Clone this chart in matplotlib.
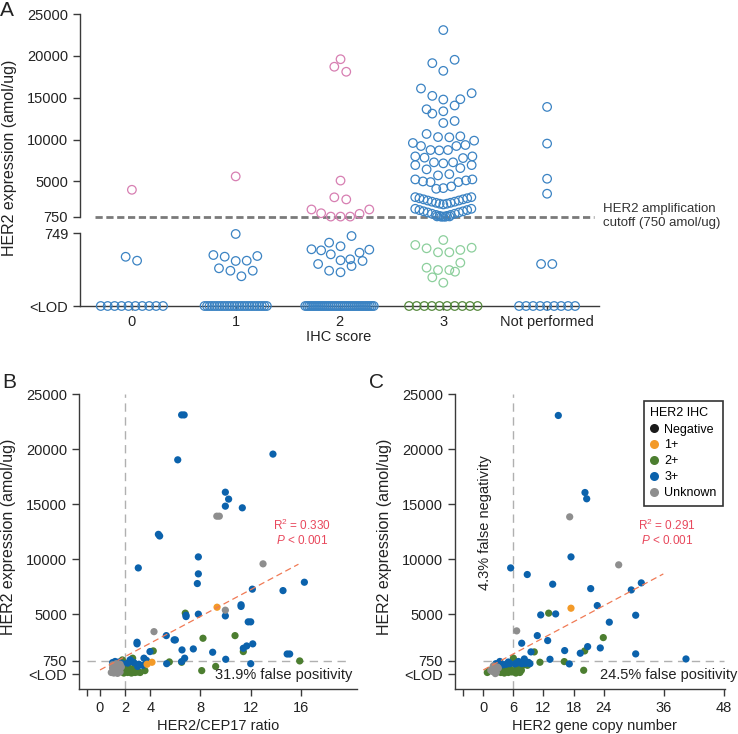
import matplotlib
matplotlib.use("Agg")
import matplotlib.pyplot as plt
from matplotlib.lines import Line2D
import numpy as np

plt.rcParams['font.family'] = ['Liberation Sans', 'DejaVu Sans']
plt.rcParams['mathtext.fontset'] = 'custom'
plt.rcParams['mathtext.rm'] = 'Liberation Sans'
plt.rcParams['mathtext.it'] = 'Liberation Sans:italic'

# ---------------- data ----------------
ihc_labels = ['0', '1', '2', '3', 'Not performed']
LOD = 0          # lower panel of A: <LOD .. 749
LOD_BC = -450    # where <LOD sits on the B/C axes

# panel A, values above cutoff (amol/ug) and their swarm offsets
a0_hi = [4000]
a0_hi_dx = [0.0]
a0_lo = [505, 465]
a0_lo_dx = [-0.06, 0.05]
a0_lod = 10

a1_hi = [5600]
a1_hi_dx = [0.0]
a1_lo = [739, 523, 506, 462, 465, 513, 387, 362, 362, 305]
a1_lo_dx = [0.0, -0.215, -0.106, 0.0, 0.106, 0.208, -0.161, -0.051, 0.164, 0.055]
a1_lod = 26

a2_hi = [19600, 18700, 18100, 5100, 3100, 2850, 1650, 1200, 800, 800, 800, 1130, 1650]
a2_hi_dx = [0.01, -0.05, 0.065, 0.01, -0.05, 0.065, -0.27, -0.177, -0.084, 0.01, 0.103, 0.193, 0.287]
a2_lo = [718, 650, 613, 582, 571, 578, 530, 547, 469, 479, 462, 431, 410, 362, 346]
a2_lo_dx = [0.116, -0.1, 0.01, -0.27, -0.177, 0.287, -0.084, 0.193, 0.01, 0.103, 0.222, -0.206, 0.116, -0.1, 0.01]
a2_lod = 36

a3_hi = [23080, 19130, 19530, 18210, 16100, 15220, 14780, 14820, 15540, 14070,
         13620, 13100, 13380, 11980, 12220, 10670, 10300, 10270, 10390, 9590,
         9230, 8750, 8710, 8750, 9230, 9350, 9870, 7990, 7840, 7280,
         7160, 7280, 7790, 7990, 6950, 6440, 6590, 6950, 5720, 5870,
         5240, 5000, 4920, 4120, 4200, 4400, 4920, 5120, 5240,
         3120, 2990, 2860, 2720, 2580, 2450, 2340, 2250, 2340, 2450, 2580, 2720, 2860, 2990, 3120,
         1730, 1580, 1430, 1290, 1140, 1000, 880, 800, 880, 1000, 1140, 1290, 1430, 1580, 1730,
         820, 780, 780, 820]
a3_hi_dx = [0.0, -0.106, 0.109, 0.0, -0.215, -0.106, 0.0, 0.164, 0.273, 0.109,
            -0.161, -0.106, 0.0, 0.0, 0.109, -0.161, -0.051, 0.058, 0.164, -0.293,
            -0.215, -0.123, -0.039, 0.045, 0.126, 0.213, 0.297, -0.27, -0.181, -0.09,
            0.0, 0.094, 0.19, 0.28, -0.27, -0.161, 0.164, 0.273, -0.051, 0.058,
            -0.27, -0.196, -0.123, -0.068, 0.0, 0.077, 0.145, 0.219, 0.28,
            -0.27, -0.23, -0.19, -0.15, -0.11, -0.07, -0.035, 0.0, 0.035, 0.07, 0.11, 0.15, 0.19, 0.23, 0.27,
            -0.27, -0.23, -0.19, -0.15, -0.11, -0.07, -0.035, 0.0, 0.035, 0.07, 0.11, 0.15, 0.19, 0.23, 0.27,
            -0.06, -0.02, 0.02, 0.06]
a3_lo = [677, 626, 592, 551, 551, 575, 598, 444, 393, 369, 369, 352, 294, 239]
a3_lo_dx = [0.0, -0.27, -0.161, -0.051, 0.058, 0.164, 0.273, 0.164, -0.161, -0.051, 0.058, 0.113, -0.106, 0.0]
a3_lod = 10

anp_hi = [13900, 9520, 5320, 3530]
anp_hi_dx = [0.0, 0.0, 0.0, 0.0]
anp_lo = [431, 431]
anp_lo_dx = [-0.058, 0.05]
anp_lod = 9

# half-widths of the <LOD rows
lod_halfwidth = [0.30, 0.30, 0.33, 0.33, 0.27]

# panel B: HER2/CEP17 ratio vs expression
b_blue_x = [6.5, 6.7, 6.19, 13.77, 9.98, 10.24, 9.98, 11.33, 4.65, 4.75, 7.83, 3.05, 7.83, 7.75,
            16.27, 12.13, 14.57, 11.23, 11.23, 6.85, 6.85, 7.83, 9.98, 11.8, 12.0, 5.28, 5.9, 6.0,
            2.95, 2.95, 3.98, 6.53, 7.43, 8.97, 11.41, 11.68, 12.16, 14.9, 15.1, 3.5, 10.01, 3.74,
            5.31, 6.5, 6.74, 12.0,
            1.0, 1.2, 1.5, 1.8, 2.2, 2.5, 2.7, 3.1, 3.4, 3.0, 3.7, 2.4]
b_blue_y = [23100, 23100, 19020, 19540, 16080, 15450, 14810, 14660, 12250, 12100, 10200, 9200, 8660, 7780,
            7900, 7270, 7140, 5850, 5700, 4900, 4780, 5000, 4840, 4300, 4300, 3050, 2660, 2660,
            2450, 2300, 1600, 1750, 1840, 1540, 1900, 2110, 2300, 1380, 1380, 1000, 900, 600,
            500, 690, 1000, 500,
            600, 700, 650, 500, 550, 700, 600, 450, 350, 250, 800, 850]
b_green_x = [6.79, 8.20, 10.75, 4.24, 11.41, 2.60, 15.90, 5.52, 6.5, 8.10, 9.21, 3.58, 2.87, 1.78,
             2.0, 2.2, 2.4, 2.6, 2.8, 3.0, 1.9, 2.3, 2.7, 2.1, 3.2, 2.5]
b_green_y = [5090, 2810, 3050, 1660, 1600, 1000, 750, 660, 630, -130, 250, -130, -70, 840,
             0, -300, -250, -300, -300, -250, -350, 100, 100, 200, -300, -350]
b_orange_x = [9.32, 4.14, 3.75]
b_orange_y = [5630, 630, 450]
b_gray_x = [9.3, 9.5, 12.98, 9.98, 4.30,
            1.0, 1.2, 1.3, 1.5, 1.6, 1.1, 1.4, 0.9, 1.7, 1.3, 1.0, 1.6]
b_gray_y = [13900, 13900, 9570, 5360, 3410,
            100, -200, 300, 0, -250, -350, -380, -300, 200, 500, 400, 450]
b_fit = (-70, 608)        # intercept, slope
b_fit_span = (0, 15.8)

# panel C: HER2 gene copy number vs expression
c_blue_x = [14.96, 20.28, 20.62, 17.49, 5.46, 8.77, 13.84, 21.42, 29.51, 31.51, 22.73, 11.45, 14.43,
            30.39, 25.13, 10.77, 12.84, 7.66, 9.51, 16.23, 19.34, 20.81, 23.33, 30.39, 40.42, 13.3,
            17.15, 8.18, 7.66, 8.4, 9.3, 6.66, 5.3, 4.6, 4.0,
            2.5, 3.3, 3.6, 5.0, 6.3, 7.0, 9.0]
c_blue_y = [23050, 16050, 15480, 10200, 9200, 8600, 7720, 7320, 7200, 7840, 5780, 4930, 5020,
            4900, 4270, 3050, 2600, 2360, 1570, 1690, 1450, 2050, 1930, 1390, 930, 900,
            480, 930, 500, 520, 500, 540, 500, 450, 400,
            500, 700, 400, 650, 480, 700, 620]
c_green_x = [13.04, 23.93, 10.17, 20.22, 16.15, 20.02, 11.3, 6.0,
             0.8, 1.3, 3.5, 4.2, 5.0, 5.7, 6.5, 7.3, 4.5, 3.8, 5.2, 6.8, 7.7, 8.8, 5.7, 7.6]
c_green_y = [5090, 2870, 1570, 1660, 690, -100, 630, 1000,
             -300, -100, -300, -350, -300, -250, -350, -300, 0, 200, 100, 100, 300, 350, -100, -100]
c_orange_x = [17.49]
c_orange_y = [5540]
c_gray_x = [17.23, 27.0, 6.66, 1.8, 2.2, 2.6, 3.0, 2.0, 1.5, 2.4, 2.8]
c_gray_y = [13840, 9480, 3480, -200, 0, -300, 100, 300, -100, -400, 200]
c_fit = (-70, 243)
c_fit_span = (0, 35.9)

# ---------------- style ----------------
BLUE_O = '#3b83c3'
PINK_O = '#d77fb2'
LGREEN_O = '#8ccf9c'
DGREEN_O = '#55883c'
BLUE = '#0b62ac'
GREEN = '#4c7e30'
ORANGE = '#f39a28'
GRAY = '#8e8e8e'
RED = '#e8485c'
SPINE = '#3a3a3a'

W, H = 738, 734
fig = plt.figure(figsize=(W / 100, H / 100), dpi=100)


def px_axes(x0, y0, x1, y1):
    return fig.add_axes([x0 / W, 1 - y1 / H, (x1 - x0) / W, (y1 - y0) / H])


def px_text(x, y, s, **kw):
    return fig.text(x / W, 1 - y / H, s, **kw)


def style(ax):
    for side in ['top', 'right']:
        ax.spines[side].set_visible(False)
    for side in ['left', 'bottom']:
        ax.spines[side].set_color(SPINE)
        ax.spines[side].set_linewidth(1.0)
    ax.tick_params(direction='out', length=5, width=1, color=SPINE,
                   labelsize=10.5, labelcolor='#222222')


# ---------------- panel A ----------------
ax_hi = px_axes(80, 14, 599, 217)
ax_lo = px_axes(80, 233, 599, 306)
style(ax_hi)
style(ax_lo)
ax_hi.spines['bottom'].set_visible(False)
ax_hi.set_xlim(-0.5, 4.5)
ax_lo.set_xlim(-0.5, 4.5)
ax_hi.set_ylim(750, 25000)
ax_lo.set_ylim(LOD, 749)
ax_hi.set_xticks([])
ax_hi.set_yticks([750, 5000, 10000, 15000, 20000, 25000])
ax_lo.set_yticks([LOD, 749])
ax_lo.set_yticklabels(['<LOD', '749'])
ax_lo.set_xticks(range(5))
ax_lo.set_xticklabels(ihc_labels)
ax_lo.tick_params(axis='x', length=3)

hi_sets = [(a0_hi, a0_hi_dx, PINK_O), (a1_hi, a1_hi_dx, PINK_O), (a2_hi, a2_hi_dx, PINK_O),
           (a3_hi, a3_hi_dx, BLUE_O), (anp_hi, anp_hi_dx, BLUE_O)]
lo_sets = [(a0_lo, a0_lo_dx, BLUE_O), (a1_lo, a1_lo_dx, BLUE_O), (a2_lo, a2_lo_dx, BLUE_O),
           (a3_lo, a3_lo_dx, LGREEN_O), (anp_lo, anp_lo_dx, BLUE_O)]
lod_counts = [a0_lod, a1_lod, a2_lod, a3_lod, anp_lod]
lod_colors = [BLUE_O, BLUE_O, BLUE_O, DGREEN_O, BLUE_O]

circ = dict(s=38, facecolors='none', linewidths=0.9, clip_on=False, zorder=3)
for i, (vals, dx, col) in enumerate(hi_sets):
    ax_hi.scatter(i + np.array(dx), vals, edgecolors=col, **circ)
for i, (vals, dx, col) in enumerate(lo_sets):
    ax_lo.scatter(i + np.array(dx), vals, edgecolors=col, **circ)
for i, n in enumerate(lod_counts):
    xs = i + np.linspace(-lod_halfwidth[i], lod_halfwidth[i], n)
    ax_lo.scatter(xs, [LOD] * n, edgecolors=lod_colors[i], **circ)

ax_hi.hlines(750, -0.36, 4.45, colors='#7a7a7a', linestyles=(0, (2.6, 1.3)),
             linewidth=2.0, clip_on=False, zorder=2)
px_text(603, 216, 'HER2 amplification\ncutoff (750 amol/ug)', fontsize=9.5,
        va='center', ha='left', color='#333333', linespacing=1.25)
px_text(10, 158, 'HER2 expression (amol/ug)', rotation=90, fontsize=11.5,
        va='center', ha='center', color='#222222')
px_text(339, 337, 'IHC score', fontsize=10.5, va='center', ha='center', color='#222222')
px_text(0, 10, 'A', fontsize=15, va='center', ha='left', color='#222222')


# ---------------- panels B and C ----------------
def scatter_panel(ax, xlim, xticks, groups, vline, hspan, fit, fit_span, r2):
    style(ax)
    ax.set_xlim(*xlim)
    ax.set_ylim(-1800, 25000)
    ax.set_yticks([LOD_BC, 750, 5000, 10000, 15000, 20000, 25000])
    ax.set_yticklabels(['<LOD', '750', '5000', '10000', '15000', '20000', '25000'])
    ax.set_xticks(xticks)
    ax.set_xticklabels([''] + [str(t) for t in xticks[1:]])
    ax.axvline(vline, color='#b0b0b0', lw=1.0, ls=(0, (6, 4)), zorder=1)
    ax.hlines(750, hspan[0], hspan[1], colors='#b0b0b0', lw=1.0,
              linestyles=(0, (6, 4)), zorder=1)
    for xs, ys, col in groups:
        ax.scatter(xs, ys, s=27, color=col, edgecolors='none', zorder=3, clip_on=False)
    fx = np.array(fit_span)
    ax.plot(fx, fit[0] + fit[1] * fx, color='#f07a55', lw=0.9,
            ls=(0, (5, 3)), zorder=4)
    ax.text(r2[0], 0.556, r'R$^2$ = ' + r2[1], transform=ax.transAxes, color=RED,
            fontsize=8.5, ha='center', va='center')
    ax.text(r2[0], 0.505, r'$\it{P}$ < 0.001', transform=ax.transAxes, color=RED,
            fontsize=8.5, ha='center', va='center')


ax_b = px_axes(79, 394, 357, 689)
scatter_panel(ax_b, (-1.67, 20.46), [-1, 0, 2, 4, 8, 12, 16],
              [(b_green_x, b_green_y, GREEN), (b_blue_x, b_blue_y, BLUE),
               (b_orange_x, b_orange_y, ORANGE), (b_gray_x, b_gray_y, GRAY)],
              2, (-1, 19.7), b_fit, b_fit_span, (0.802, '0.330'))
ax_b.text(0.982, 0.047, '31.9% false positivity', transform=ax_b.transAxes,
          fontsize=10.5, ha='right', va='center', color='#222222')

ax_c = px_axes(455, 394, 725, 689)
scatter_panel(ax_c, (-5.64, 48.2), [-4, 0, 6, 12, 18, 24, 36, 48],
              [(c_green_x, c_green_y, GREEN), (c_blue_x, c_blue_y, BLUE),
               (c_orange_x, c_orange_y, ORANGE), (c_gray_x, c_gray_y, GRAY)],
              6, (0, 48), c_fit, c_fit_span, (0.785, '0.291'))
ax_c.text(1.044, 0.047, '24.5% false positivity', transform=ax_c.transAxes,
          fontsize=10.5, ha='right', va='center', color='#222222', clip_on=False)
px_text(485, 523, '4.3% false negativity', rotation=90, fontsize=10.5,
        va='center', ha='center', color='#222222')

leg_labels = ['Negative', '1+', '2+', '3+', 'Unknown']
leg_colors = ['#1a1a1a', ORANGE, GREEN, BLUE, GRAY]
handles = [Line2D([], [], marker='o', ls='none', markersize=6.5, color=c, markeredgecolor='none')
           for c in leg_colors]
leg = ax_c.legend(handles, leg_labels, title='HER2 IHC', loc='upper right',
                  bbox_to_anchor=(729 / W, 1 - 395 / H), bbox_transform=fig.transFigure,
                  fontsize=9, frameon=True, fancybox=False,
                  title_fontproperties={'size': 9, 'weight': 'normal'},
                  edgecolor='#333333', handlelength=0.6, handletextpad=0.5,
                  labelspacing=0.32, borderpad=0.5, alignment='left', framealpha=1)
leg.get_frame().set_linewidth(1.2)

px_text(218, 726, 'HER2/CEP17 ratio', fontsize=10.5, ha='center', va='center', color='#222222')
px_text(594, 726, 'HER2 gene copy number', fontsize=10.5, ha='center', va='center', color='#222222')
px_text(9, 537, 'HER2 expression (amol/ug)', rotation=90, fontsize=11.5,
        va='center', ha='center', color='#222222')
px_text(384, 537, 'HER2 expression (amol/ug)', rotation=90, fontsize=11.5,
        va='center', ha='center', color='#222222')
px_text(2, 383, 'B', fontsize=15, va='center', ha='left', color='#222222')
px_text(369, 383, 'C', fontsize=15, va='center', ha='left', color='#222222')

fig.savefig('out.png', dpi=100)
